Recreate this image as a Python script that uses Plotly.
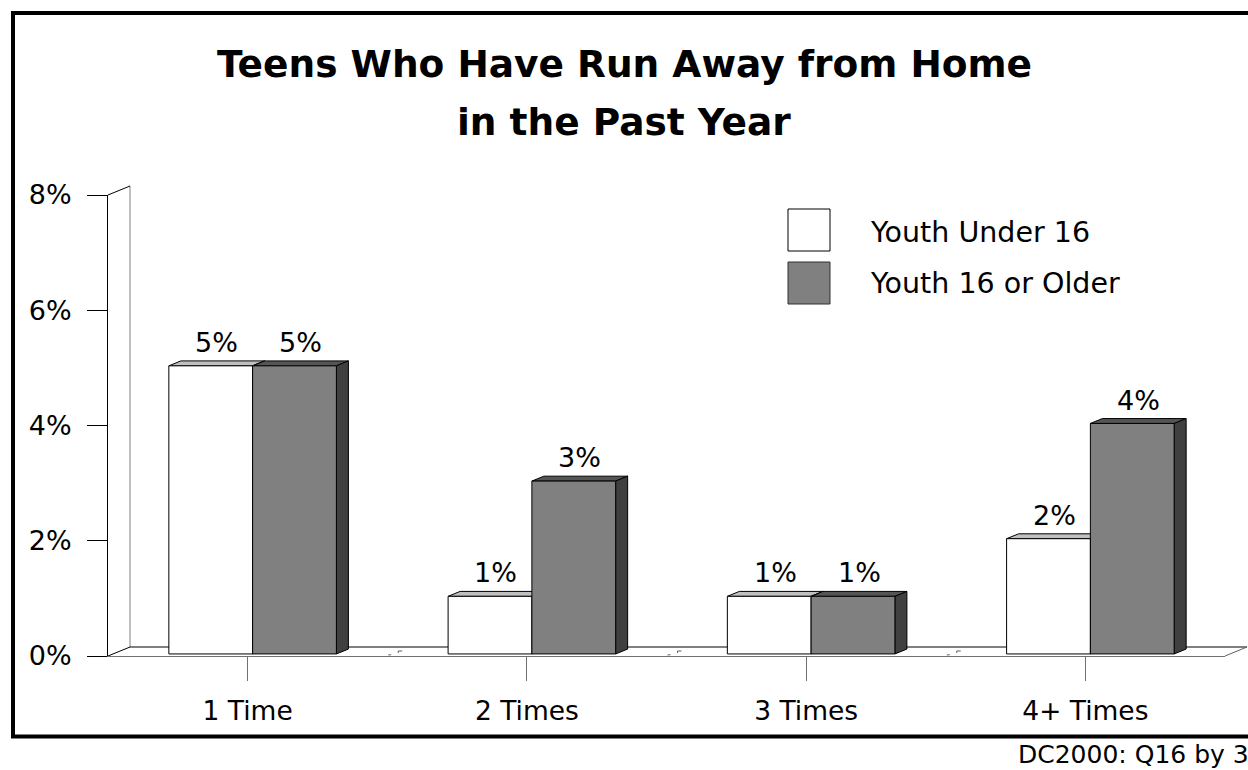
import plotly.graph_objects as go

# ---------------- data ----------------
categories = ["1 Time", "2 Times", "3 Times", "4+ Times"]
under16 = [5, 1, 1, 2]
over16 = [5, 3, 1, 4]
series_names = ["Youth Under 16", "Youth 16 or Older"]
y_ticks = [0, 2, 4, 6, 8]
y_tick_labels = ["0%", "2%", "4%", "6%", "8%"]
title_lines = ["Teens Who Have Run Away from Home", "in the Past Year"]
footer = "DC2000: Q16 by 3"

# ---------------- geometry (pixels of the 1248x770 canvas) ----------------
W, H = 1248, 770
FX0, FX1 = 108, 1225          # front axis extent (x)
FY0, FY8 = 656, 195           # pixel rows for 0 % and 8 %
YMAX = 8
UX = (FX1 - FX0) / len(categories)   # px per category unit
UY = (FY0 - FY8) / YMAX              # px per percent
DX, DY = 22 / UX, 9 / UY             # wall / floor depth in data units
F_FRONT = 5 / 22                      # depth where the bar fronts sit
F_BAR = 12 / 22                       # depth of a bar
SX, SY = F_FRONT * DX, F_FRONT * DY
BDX, BDY = F_BAR * DX, F_BAR * DY
BW = 0.3                               # bar width in category units

xmin = -0.5 - FX0 / UX
xmax = len(categories) - 0.5 + (W - FX1) / UX
ymin = -(H - FY0) / UY
ymax = YMAX + FY8 / UY

FONT = "DejaVu Sans"
WHITE, GRAY = "#FFFFFF", "#808080"
WHITE_TOP, GRAY_TOP, GRAY_SIDE = "#C0C0C0", "#555555", "#404040"

fig = go.Figure()
idx = list(range(len(categories)))

fig.add_trace(go.Bar(
    x=idx, y=under16, base=SY, width=BW, offset=-BW + SX,
    marker=dict(color=WHITE, line=dict(color="black", width=1)),
    name=series_names[0], showlegend=False, hoverinfo="skip",
    xaxis="x", yaxis="y"))
fig.add_trace(go.Bar(
    x=idx, y=over16, base=SY, width=BW, offset=SX,
    marker=dict(color=GRAY, line=dict(color="black", width=1)),
    name=series_names[1], showlegend=False, hoverinfo="skip",
    xaxis="x", yaxis="y"))
# helper (empty) trace so the visible front axes get a subplot
fig.add_trace(go.Scatter(x=[], y=[], xaxis="x2", yaxis="y2",
                         showlegend=False, hoverinfo="skip"))

shapes = []
def line(x0, y0, x1, y1, color="black", width=1):
    shapes.append(dict(type="line", xref="x", yref="y", layer="below",
                       x0=x0, y0=y0, x1=x1, y1=y1,
                       line=dict(color=color, width=width)))

def poly(pts, fill, lc="black"):
    d = "M " + " L ".join(f"{px},{py}" for px, py in pts) + " Z"
    shapes.append(dict(type="path", xref="x", yref="y", layer="below", path=d,
                       fillcolor=fill, line=dict(color=lc, width=1)))

# wall and floor
left, right = -0.5, len(categories) - 0.5
line(left + DX, DY, left + DX, YMAX + DY, color="#808080")
line(left, YMAX, left + DX, YMAX + DY)
line(left, 0, left + DX, DY)
line(left + DX, DY, right + DX, DY)
line(right, 0, right + DX, DY, color="#606060")
# tiny floor marks at category boundaries
for b in range(len(categories) - 1):
    xb = b + 0.5
    line(xb + 1 / UX, 1 / UY, xb + 4 / UX, 1.3 / UY, color="#606060")
    line(xb + 11 / UX, 5 / UY, xb + 15 / UX, 5 / UY, color="#606060")
    line(xb + 11 / UX, 5 / UY, xb + 11 / UX, 3 / UY, color="#606060")

# 3-D faces of the bars
for i in idx:
    for vals, off, top_c, side_c in ((under16, -BW + SX, WHITE_TOP, WHITE),
                                     (over16, SX, GRAY_TOP, GRAY_SIDE)):
        x0 = i + off
        x1 = x0 + BW
        t = vals[i] + SY
        poly([(x0, t), (x1, t), (x1 + BDX, t + BDY), (x0 + BDX, t + BDY)], top_c)
        poly([(x1, SY), (x1, t), (x1 + BDX, t + BDY), (x1 + BDX, SY + BDY)], side_c)

# legend boxes + outer frame (layout decoration in paper coords)
def px_x(v): return v / W
def px_y(v): return 1 - v / H
shapes.append(dict(type="rect", xref="paper", yref="paper",
                   x0=px_x(788), x1=px_x(830), y0=px_y(209), y1=px_y(251),
                   fillcolor=WHITE, line=dict(color="black", width=1)))
shapes.append(dict(type="rect", xref="paper", yref="paper",
                   x0=px_x(788), x1=px_x(830), y0=px_y(262), y1=px_y(304),
                   fillcolor=GRAY, line=dict(color="#303030", width=1)))
shapes.append(dict(type="rect", xref="paper", yref="paper",
                   x0=px_x(13), x1=px_x(1262), y0=px_y(13), y1=px_y(736.5),
                   fillcolor="rgba(0,0,0,0)", line=dict(color="black", width=4)))

annotations = []
# value labels
for i in idx:
    for vals, off in ((under16, -BW + SX), (over16, SX)):
        xc = i + off + BW / 2 + BDX / 2
        annotations.append(dict(x=xc, y=vals[i] + SY + BDY, xref="x", yref="y",
                                text=f"{vals[i]}%", showarrow=False,
                                yanchor="bottom", yshift=1,
                                font=dict(family=FONT, size=27, color="black")))
# title
annotations.append(dict(x=0.5, y=px_y(64), xref="paper", yref="paper",
                        text=f"<b>{title_lines[0]}</b>", showarrow=False,
                        xanchor="center", yanchor="middle",
                        font=dict(family=FONT, size=37.5, color="black")))
annotations.append(dict(x=0.5, y=px_y(122), xref="paper", yref="paper",
                        text=f"<b>{title_lines[1]}</b>", showarrow=False,
                        xanchor="center", yanchor="middle",
                        font=dict(family=FONT, size=37.5, color="black")))
# legend texts
for name, yc in zip(series_names, (232, 283)):
    annotations.append(dict(x=px_x(868), y=px_y(yc), xref="paper", yref="paper",
                            text=name, showarrow=False, xanchor="left",
                            yanchor="middle",
                            font=dict(family=FONT, size=28.5, color="black")))
# footer
annotations.append(dict(x=px_x(1016), y=px_y(754), xref="paper", yref="paper",
                        text=footer, showarrow=False, xanchor="left",
                        yanchor="middle",
                        font=dict(family=FONT, size=25, color="black")))

fig.update_layout(
    template="none",
    width=W, height=H, autosize=False,
    margin=dict(l=0, r=0, t=0, b=0, pad=0, autoexpand=False),
    paper_bgcolor="white", plot_bgcolor="rgba(0,0,0,0)",
    barmode="overlay", showlegend=False,
    xaxis=dict(domain=[0, 1], range=[xmin, xmax], visible=False,
               fixedrange=True, automargin=False),
    yaxis=dict(domain=[0, 1], range=[ymin, ymax], visible=False,
               fixedrange=True, automargin=False),
    xaxis2=dict(domain=[FX0 / W, FX1 / W], range=[-0.5, len(categories) - 0.5],
                anchor="y2", tickmode="array", tickvals=idx, ticktext=categories,
                ticks="outside", ticklen=24, tickcolor="#707070", tickwidth=1,
                showline=True, linecolor="#707070", linewidth=1,
                showgrid=False, zeroline=False, ticklabelstandoff=7,
                tickfont=dict(family=FONT, size=26.5, color="black"),
                fixedrange=True, automargin=False),
    yaxis2=dict(domain=[1 - FY0 / H, 1 - FY8 / H], range=[0, YMAX],
                anchor="x2", tickmode="array", tickvals=y_ticks,
                ticktext=y_tick_labels, ticks="outside", ticklen=20,
                tickcolor="black", tickwidth=1, showline=True,
                linecolor="black", linewidth=1,
                showgrid=False, zeroline=False, ticklabelstandoff=10,
                tickfont=dict(family=FONT, size=27, color="black"),
                fixedrange=True, automargin=False),
    shapes=shapes, annotations=annotations,
)

fig.write_html("out.html", config={"displayModeBar": False},
               post_script="document.body.style.margin='0';")
